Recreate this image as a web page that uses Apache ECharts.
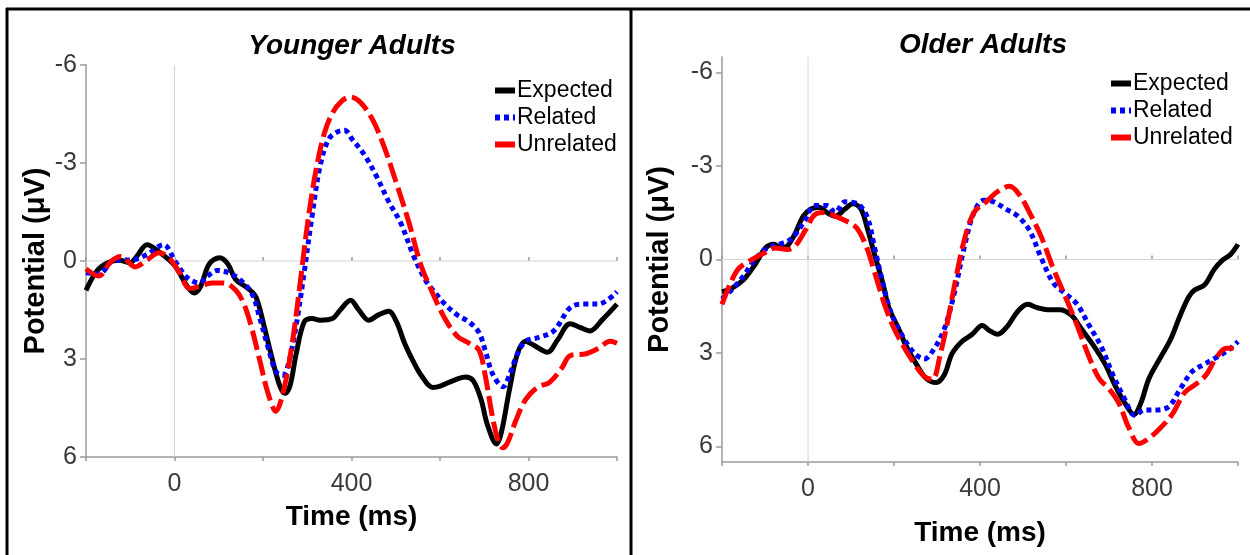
<!DOCTYPE html>
<html><head><meta charset="utf-8">
<script src="https://cdn.jsdelivr.net/npm/echarts@6/dist/echarts.min.js"></script>
<style>html,body{margin:0;padding:0;background:#fff}#c{width:1250px;height:555px}</style>
</head><body><div id="c"></div><script>
// ---- data ----
const panelTitles = ['Younger Adults', 'Older Adults'];
const seriesNames = ['Expected', 'Related', 'Unrelated'];
const timeTicks = [-200, 0, 200, 400, 600, 800, 1000];
const timeLabels = [0, 400, 800];
const potentialTicks = [-6, -3, 0, 3, 6];

const youngExpected = [[-200,0.9],[-175,0.3],[-150,0.05],[-125,-0.02],[-100,0.05],[-85,-0.15],[-62,-0.5],[-35,-0.28],[0,0.13],[29,0.78],[45,0.98],[60,0.75],[78,0.1],[102,-0.1],[120,0.08],[138,0.56],[166,0.84],[184,1.1],[202,1.97],[220,2.95],[238,3.82],[250,4.05],[261,3.82],[275,2.84],[293,1.87],[311,1.76],[329,1.81],[357,1.76],[375,1.49],[398,1.2],[416,1.49],[439,1.81],[461,1.65],[484,1.54],[502,1.87],[520,2.52],[539,3.06],[557,3.49],[584,3.87],[602,3.82],[630,3.66],[657,3.55],[675,3.66],[693,4.25],[707,5.01],[728,5.6],[739,5.23],[757,3.93],[775,2.84],[793,2.46],[811,2.57],[843,2.79],[866,2.41],[894,1.92],[916,2.03],[939,2.14],[966,1.81],[1000,1.32]];
const youngRelated = [[-200,0.35],[-171,0.4],[-135,-0.03],[-98,-0.03],[-62,-0.2],[-25,-0.5],[2,0.02],[29,0.51],[56,0.67],[75,0.46],[97,0.29],[120,0.35],[147,0.56],[175,1.0],[193,1.76],[211,2.62],[229,3.38],[245,3.5],[257,3.17],[275,1.97],[293,0.35],[311,-1.39],[329,-2.91],[348,-3.72],[366,-3.94],[384,-4.0],[402,-3.72],[430,-3.23],[457,-2.58],[484,-1.82],[511,-1.17],[539,-0.2],[566,0.56],[584,0.89],[611,1.32],[639,1.65],[666,1.87],[688,2.19],[702,2.73],[720,3.49],[743,3.85],[757,3.49],[775,2.84],[793,2.46],[820,2.35],[857,2.14],[894,1.43],[921,1.32],[957,1.32],[1000,0.94]];
const youngUnrelated = [[-200,0.24],[-171,0.46],[-144,0.02],[-121,-0.14],[-89,0.18],[-62,-0.03],[-35,-0.25],[-12,-0.09],[11,0.35],[34,0.84],[56,0.78],[84,0.67],[111,0.67],[138,0.89],[157,1.32],[175,2.08],[193,3.06],[211,4.03],[229,4.6],[247,3.93],[266,2.52],[284,0.67],[302,-1.28],[320,-2.8],[338,-3.88],[357,-4.53],[379,-4.91],[398,-5.02],[420,-4.86],[448,-4.32],[475,-3.45],[502,-2.36],[530,-1.17],[557,0.13],[584,1.0],[611,1.76],[639,2.3],[666,2.52],[688,2.73],[702,3.49],[716,4.58],[730,5.44],[742,5.72],[753,5.55],[771,4.9],[793,4.25],[820,3.87],[848,3.71],[875,3.28],[894,2.9],[930,2.84],[957,2.68],[985,2.46],[1000,2.52]];

const oldExpected = [[-200,1.04],[-178,0.93],[-150,0.65],[-122,0.14],[-99,-0.37],[-80,-0.49],[-62,-0.37],[-48,-0.43],[-30,-0.83],[-11,-1.39],[7,-1.62],[26,-1.68],[44,-1.51],[63,-1.39],[86,-1.62],[104,-1.79],[123,-1.62],[137,-1.05],[155,-0.15],[174,0.76],[188,1.55],[211,2.23],[229,2.8],[252,3.36],[275,3.82],[298,3.95],[317,3.7],[335,3.02],[358,2.63],[382,2.4],[405,2.12],[423,2.29],[441,2.4],[465,2.12],[488,1.66],[511,1.44],[534,1.55],[557,1.61],[585,1.61],[612,1.78],[636,2.23],[663,2.74],[691,3.36],[714,4.04],[737,4.61],[758,4.97],[774,4.61],[793,3.82],[820,3.14],[843,2.57],[866,1.78],[885,1.21],[899,0.98],[922,0.82],[945,0.31],[964,0.02],[982,-0.15],[1000,-0.49]];
const oldRelated = [[-200,1.27],[-178,0.98],[-150,0.53],[-122,-0.03],[-94,-0.37],[-67,-0.49],[-39,-0.66],[-11,-1.17],[17,-1.73],[44,-1.73],[63,-1.51],[86,-1.85],[114,-1.79],[137,-1.39],[155,-0.37],[174,0.76],[192,1.66],[220,2.46],[248,3.02],[271,3.19],[294,2.85],[317,2.23],[340,1.1],[363,-0.37],[386,-1.51],[409,-1.9],[432,-1.85],[460,-1.62],[488,-1.39],[515,-0.94],[543,-0.03],[571,0.76],[599,1.1],[626,1.44],[654,2.12],[682,2.8],[709,3.7],[737,4.49],[760,5.0],[783,4.83],[811,4.83],[839,4.72],[866,4.15],[894,3.59],[922,3.36],[950,3.14],[977,2.91],[1000,2.63]];
const oldUnrelated = [[-200,1.44],[-180,0.75],[-162,0.3],[-140,0.08],[-103,-0.2],[-76,-0.37],[-48,-0.32],[-30,-0.43],[-6,-0.94],[17,-1.45],[40,-1.51],[63,-1.39],[91,-1.22],[114,-1.0],[137,-0.37],[155,0.42],[178,1.44],[197,2.12],[220,2.74],[248,3.36],[271,3.76],[289,3.85],[308,3.02],[326,1.89],[345,0.53],[363,-0.6],[386,-1.51],[414,-1.85],[442,-2.19],[469,-2.35],[492,-2.07],[515,-1.51],[543,-0.71],[571,0.31],[599,1.21],[626,2.12],[654,3.14],[677,3.82],[700,4.15],[723,4.61],[746,5.4],[770,5.91],[793,5.74],[820,5.4],[848,4.95],[876,4.27],[903,3.99],[926,3.7],[950,3.14],[973,2.85],[1000,2.85]];

// ---- chart ----
const FONT = "'Liberation Sans', Arial, sans-serif";
const styles = {
  Expected: { color: '#000000', type: 'solid' },
  Related: { color: '#0000ff', type: [5, 4] },
  Unrelated: { color: '#ff0000', type: [20, 6] }
};
const panels = [
  { data: [youngExpected, youngRelated, youngUnrelated], grid: { left: 86, right: 633, top: 65, bottom: 98 },
    yMin: -6, yMax: 6, titleX: 347, titleY: 27, nameGapX: 46, nameGapY: 34, legendX: 487, legendY: 72 },
  { data: [oldExpected, oldRelated, oldUnrelated], grid: { left: 722, right: 12, top: 57, bottom: 93 },
    yMin: -6.5, yMax: 6.5, titleX: 978, titleY: 26, nameGapX: 57, nameGapY: 48, legendX: 1103, legendY: 65 }
];

const option = {
  animation: false,
  backgroundColor: '#ffffff',
  textStyle: { fontFamily: FONT },
  title: [], legend: [], grid: [], xAxis: [], yAxis: [], series: [],
  graphic: [
    { type: 'line', shape: { x1: 6, y1: 9, x2: 1250, y2: 9 }, style: { stroke: '#000', lineWidth: 3 } },
    { type: 'line', shape: { x1: 7, y1: 8, x2: 7, y2: 555 }, style: { stroke: '#000', lineWidth: 3 } },
    { type: 'line', shape: { x1: 631, y1: 8, x2: 631, y2: 555 }, style: { stroke: '#000', lineWidth: 3 } }
  ]
};

panels.forEach((p, i) => {
  option.title.push({ text: panelTitles[i], left: p.titleX, top: p.titleY, textAlign: 'center',
    textStyle: { fontFamily: FONT, fontSize: 28, fontWeight: 'bold', fontStyle: 'italic', color: '#000' } });
  option.grid.push(Object.assign({ containLabel: false }, p.grid));
  const xBase = { type: 'value', gridIndex: i, min: -200, max: 1000, interval: 200, position: 'bottom' };
  option.xAxis.push(Object.assign({}, xBase, {
    name: 'Time (ms)', nameLocation: 'middle', nameGap: p.nameGapX,
    nameTextStyle: { fontFamily: FONT, fontSize: 28, fontWeight: 'bold', color: '#000' },
    axisLine: { show: true, onZero: false, lineStyle: { color: '#9a9a9a', width: 1.5 } },
    axisTick: { show: true, inside: false, length: 4, lineStyle: { color: '#9a9a9a', width: 1.5 }, customValues: timeTicks },
    axisLabel: { customValues: timeLabels, fontFamily: FONT, fontSize: 25, color: '#3a3a3a', margin: 15 },
    splitLine: { show: false }
  }));
  option.xAxis.push(Object.assign({}, xBase, {
    axisLine: { show: false }, axisLabel: { show: false }, splitLine: { show: false },
    axisTick: { show: true, inside: true, length: 4, lineStyle: { color: '#9a9a9a', width: 1.5 }, customValues: timeTicks }
  }));
  option.yAxis.push({
    type: 'value', gridIndex: i, min: p.yMin, max: p.yMax, inverse: true,
    name: 'Potential (μV)', nameLocation: 'middle', nameGap: p.nameGapY, nameRotate: 90,
    nameTextStyle: { fontFamily: FONT, fontSize: 29, fontWeight: 'bold', color: '#000' },
    axisLine: { show: true, onZero: false, lineStyle: { color: '#9a9a9a', width: 1.5 } },
    axisTick: { show: true, length: 6, customValues: potentialTicks, lineStyle: { color: '#9a9a9a', width: 1.5 } },
    axisLabel: { customValues: potentialTicks, fontFamily: FONT, fontSize: 25, color: '#3a3a3a', margin: 9 },
    splitLine: { show: false }
  });
  // zero reference lines
  option.series.push({ type: 'line', xAxisIndex: i * 2, yAxisIndex: i, data: [[-200, 0], [1000, 0]], symbol: 'none', silent: true,
    lineStyle: { color: '#d6d6d6', width: 1 }, z: 1 });
  option.series.push({ type: 'line', xAxisIndex: i * 2, yAxisIndex: i, data: [[0, p.yMin], [0, p.yMax]], symbol: 'none', silent: true,
    lineStyle: { color: '#d6d6d6', width: 1 }, z: 1 });
  seriesNames.forEach((n, k) => {
    option.series.push({ name: n, type: 'line', xAxisIndex: i * 2, yAxisIndex: i, data: p.data[k],
      symbol: 'none', smooth: 0.35, z: 2 + k,
      lineStyle: { color: styles[n].color, width: 5, type: styles[n].type, cap: 'butt' },
      itemStyle: { color: styles[n].color } });
  });
  option.legend.push({ data: seriesNames, orient: 'vertical', left: p.legendX, top: p.legendY,
    itemWidth: 20, itemHeight: 14, itemGap: 0, selectedMode: false,
    itemStyle: { color: 'rgba(0,0,0,0)', borderWidth: 0, opacity: 0 },
    lineStyle: { width: 6 },
    textStyle: { fontFamily: FONT, fontSize: 23, color: '#000', lineHeight: 27, padding: [0, 0, 0, -3] } });
});

const chart = echarts.init(document.getElementById('c'), null, { renderer: 'canvas' });
chart.setOption(option);
</script></body></html>
